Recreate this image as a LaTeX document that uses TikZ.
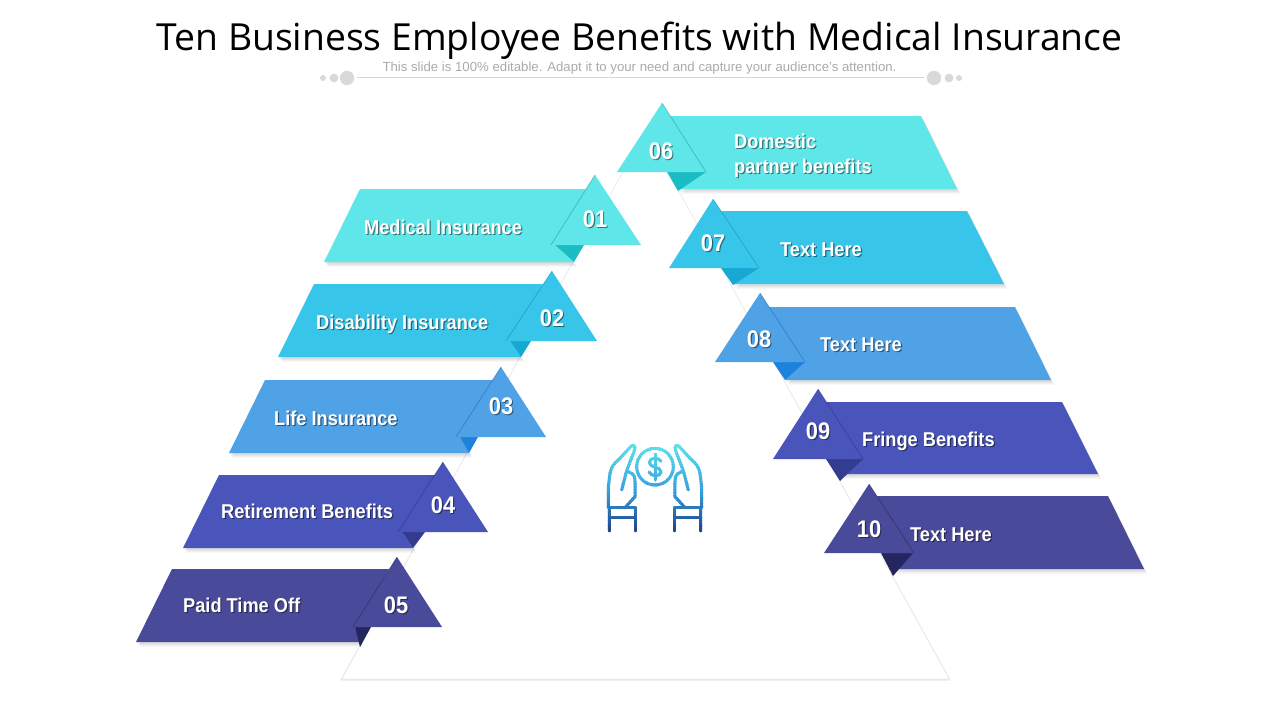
\documentclass[tikz,border=0pt]{standalone}
\usepackage{fontspec}
\setmainfont{Liberation Sans}
\newfontfamily\titlefont{Open Sans}
\newfontfamily\labfont[FakeStretch=0.91]{Liberation Sans}
\usetikzlibrary{calc}
\definecolor{cA}{HTML}{5FE6E9}\definecolor{fA}{HTML}{1CBCC4}
\definecolor{cB}{HTML}{37C6EA}\definecolor{fB}{HTML}{16A8D2}
\definecolor{cC}{HTML}{50A2E7}\definecolor{fC}{HTML}{1E82DC}
\definecolor{cD}{HTML}{4A55BB}\definecolor{fD}{HTML}{343C8F}
\definecolor{cE}{HTML}{4A4A9A}\definecolor{fE}{HTML}{25265F}
\definecolor{icoTop}{HTML}{5FE3EA}\definecolor{icoMid}{HTML}{35A0E0}\definecolor{icoBot}{HTML}{1F3A80}
\newcommand{\shtext}[2]{\leavevmode\rlap{\raisebox{-1.3pt}{\kern1.2pt\textcolor{#1!52!black}{#2}}}#2}
\newcommand{\softshadow}[1]{%
  \foreach \dx/\dy in {1/1.5,2/3,3/4.5}{\fill[black,opacity=.05,shift={(\dx,\dy)}] #1;}}
% colour, fold colour, ribbon path, fold path, triangle path, edge path
\newcommand{\banner}[6]{%
  \softshadow{#3}
  \fill[#1] #3;
  \fill[#2] #4;
  \fill[#1] #5;
  \draw[#2!75!black,line width=.8pt,opacity=.45] #6;}
\newcommand{\iconpaths}{%
  \draw[icoline] (58,303) -- (58,233) -- (55,233) -- (55,170) -- (60,130) .. controls (63,112) and (72,100) .. (85,90) -- (122,50) .. controls (130,42) and (137,47) .. (134,60) -- (110,122) -- (128,132) .. controls (134,137) and (135,145) .. (135,155) -- (135,200) -- (105,233);
  \draw[icoline] (110,122) -- (95,180);
  \draw[icoline] (55,233) -- (137,233);
  \draw[icoline] (135,233) -- (135,303);
  \draw[icoline] (58,262) -- (135,262);
  \draw[icoline] (332,303) -- (332,233) -- (335,233) -- (335,170) -- (330,130) .. controls (327,112) and (318,100) .. (305,90) -- (268,50) .. controls (260,42) and (253,47) .. (256,60) -- (280,122) -- (262,132) .. controls (256,137) and (255,145) .. (255,155) -- (255,200) -- (285,233);
  \draw[icoline] (280,122) -- (295,180);
  \draw[icoline] (335,233) -- (253,233);
  \draw[icoline] (255,233) -- (255,303);
  \draw[icoline] (332,262) -- (255,262);
  \draw[icoline] (195,110) circle[radius=55];
  \draw[icoline] (213,94) .. controls (208,82) and (180,80) .. (178,97) .. controls (176,114) and (214,108) .. (213,126) .. controls (212,142) and (182,140) .. (177,126);
  \draw[icoline] (195,72) -- (195,150);
}
\tikzset{
  numlab/.style={text=white,font=\labfont\bfseries\fontsize{24}{24}\selectfont,inner sep=0pt},
  bandlab/.style={text=white,font=\labfont\bfseries\fontsize{20}{25}\selectfont,inner sep=0pt,anchor=west,align=left},
  deco/.style={fill=black!15},
}
\begin{document}
\begin{tikzpicture}[x=1pt,y=-1pt]
\useasboundingbox[fill=white] (0,0) rectangle (1280,720);

\node[inner sep=0pt,font=\titlefont\fontsize{37.3}{37.3}\selectfont,text=black] (title) at (639.5,41) {Ten Business Employee Benefits with Medical Insurance};
\node[inner sep=0pt,font=\fontsize{13.2}{13.2}\selectfont,text=black!33] (subtitle) at (639.5,68) {This slide is 100\% editable. Adapt it to your need and capture your audience's attention.};
\draw[black!17,line width=.8pt] (357,77.5) -- (924,77.5);
\fill[deco] (347,78) circle[radius=7.2] (334,78) circle[radius=4.4] (323,78) circle[radius=3];
\fill[deco] (934,78) circle[radius=7.2] (949,78) circle[radius=4.4] (959,78) circle[radius=3];

% central white triangle
\draw[black!9,line width=2.4pt,line join=round] (645.5,133) -- (949,679.5) -- (342,679.5) -- cycle;
\fill[white] (645.5,132) -- (948.5,678.5) -- (342.5,678.5) -- cycle;

% left banners
\banner{cA}{fA}{(360,189) -- (586,189) -- (555,245) -- (574,262) -- (324,262) -- cycle}{(555,245) -- (584,245) -- (574,262) -- cycle}{(595,175) -- (641,245) -- (551,245) -- cycle}{(595,175) -- (551,245)}
\banner{cB}{fB}{(314,284) -- (543,284) -- (510,341) -- (521,357) -- (278,357) -- cycle}{(510,341) -- (531,341) -- (521,357) -- cycle}{(552,271) -- (597,341) -- (506,341) -- cycle}{(552,271) -- (506,341)}
\banner{cC}{fC}{(265,380) -- (493,380) -- (460,437) -- (469,453) -- (229,453) -- cycle}{(460,437) -- (478,437) -- (469,453) -- cycle}{(501,367) -- (546,437) -- (456,437) -- cycle}{(501,367) -- (456,437)}
\banner{cD}{fD}{(219,475) -- (435,475) -- (402,532) -- (413,548) -- (183,548) -- cycle}{(402,532) -- (425,532) -- (413,548) -- cycle}{(443,462) -- (488,532) -- (398,532) -- cycle}{(443,462) -- (398,532)}
\banner{cE}{fE}{(172,569) -- (389,569) -- (355,627) -- (360,642) -- (136,642) -- cycle}{(355,627) -- (371,627) -- (360,647) -- cycle}{(397,557) -- (442,627) -- (353,627) -- cycle}{(397,557) -- (353,627)}

% right banners
\banner{cA}{fA}{(670,116) -- (921,116) -- (957,189) -- (678,189) -- (700,172) -- cycle}{(667,172) -- (706,172) -- (678,191) -- cycle}{(662,103) -- (706,172) -- (617,172) -- cycle}{(662,103) -- (706,172)}
\banner{cB}{fB}{(721,211) -- (967,211) -- (1004,284) -- (733,284) -- (750,268) -- cycle}{(721,268) -- (759,268) -- (733,285) -- cycle}{(713,199) -- (759,268) -- (669,268) -- cycle}{(713,199) -- (759,268)}
\banner{cC}{fC}{(768,307) -- (1015,307) -- (1051,380) -- (785,380) -- (800,362) -- cycle}{(773,362) -- (805,362) -- (785,380) -- cycle}{(760,293) -- (805,362) -- (715,362) -- cycle}{(760,293) -- (805,362)}
\banner{cD}{fD}{(826,402) -- (1062,402) -- (1098,474) -- (840,474) -- (858,459) -- cycle}{(826,459) -- (863,459) -- (840,481) -- cycle}{(818,389) -- (863,459) -- (773,459) -- cycle}{(818,389) -- (863,459)}
\banner{cE}{fE}{(877,496) -- (1108,496) -- (1144,569) -- (893,569) -- (910,553) -- cycle}{(881,553) -- (913,553) -- (893,576) -- cycle}{(869,484) -- (914,553) -- (824,553) -- cycle}{(869,484) -- (914,553)}

% numbers
\node[numlab] (n01) at (595,220) {\shtext{cA}{01}};
\node[numlab] (n02) at (552,319) {\shtext{cB}{02}};
\node[numlab] (n03) at (501,407) {\shtext{cC}{03}};
\node[numlab] (n04) at (443,506) {\shtext{cD}{04}};
\node[numlab] (n05) at (396,606) {\shtext{cE}{05}};
\node[numlab] (n06) at (661,152) {\shtext{cA}{06}};
\node[numlab] (n07) at (713,244) {\shtext{cB}{07}};
\node[numlab] (n08) at (759,340) {\shtext{cC}{08}};
\node[numlab] (n09) at (818,432) {\shtext{cD}{09}};
\node[numlab] (n10) at (869,530) {\shtext{cE}{10}};

% labels
\node[bandlab] (l01) at (364,228) {\shtext{cA}{Medical Insurance}};
\node[bandlab] (l02) at (316,325) {\shtext{cB}{Disability Insurance}};
\node[bandlab] (l03) at (274,419) {\shtext{cC}{Life Insurance}};
\node[bandlab] (l04) at (221,512) {\shtext{cD}{Retirement Benefits}};
\node[bandlab] (l05) at (183,606) {\shtext{cE}{Paid Time Off}};
\node[bandlab] (l06) at (734,156.5) {\shtext{cA}{Domestic}\\\shtext{cA}{partner benefits}};
\node[bandlab] (l07) at (780,250) {\shtext{cB}{Text Here}};
\node[bandlab] (l08) at (820,345) {\shtext{cC}{Text Here}};
\node[bandlab] (l09) at (862,442) {\shtext{cD}{Fringe Benefits}};
\node[bandlab] (l10) at (910,535) {\shtext{cE}{Text Here}};

% central icon, coloured in horizontal bands
\begin{scope}[shift={(590,430)},x=.3333pt,y=-.3333pt]
\tikzset{icoline/.style={line width=3pt,line cap=round,line join=round}}
\foreach \i in {0,...,33}{
  \pgfmathsetmacro{\ya}{36+\i*8.4}
  \pgfmathsetmacro{\yb}{\ya+9}
  \pgfmathtruncatemacro{\pa}{min(100,\i*100/17)}
  \pgfmathtruncatemacro{\pb}{max(0,min(100,(\i-17)*100/16))}
  \colorlet{bandcol}{icoMid!\pa!icoTop}
  \ifnum\i>17 \colorlet{bandcol}{icoBot!\pb!icoMid}\fi
  \begin{scope}
    \clip (40,\ya) rectangle (350,\yb);
    \tikzset{icoline/.append style={draw=bandcol}}
    \iconpaths
  \end{scope}
}
\end{scope}
\end{tikzpicture}
\end{document}
